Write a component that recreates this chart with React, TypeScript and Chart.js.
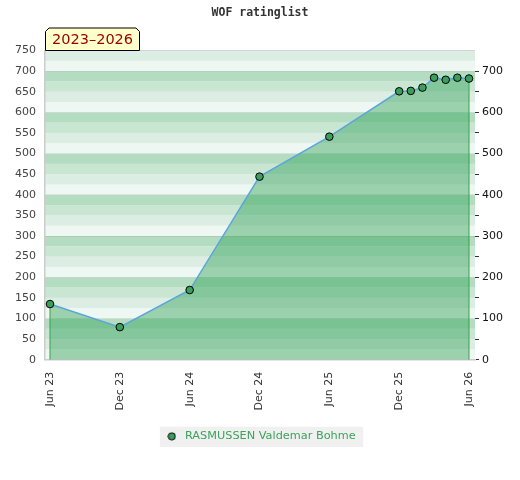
import React, { useEffect, useRef } from "react";
import { Chart, registerables } from "chart.js";

Chart.register(...registerables);

const titleText = "WOF ratinglist";
const playerName = "RASMUSSEN Valdemar Bohme";
const dates = [
  "2023-06", "2023-12", "2024-06", "2024-12", "2025-06", "2025-12",
  "2026-01", "2026-02", "2026-03", "2026-04", "2026-05", "2026-06",
];
const ratings = [135, 79, 169, 444, 541, 651, 652, 660, 684, 679, 684, 682];
const xTickLabels = ["Jun 23", "Dec 23", "Jun 24", "Dec 24", "Jun 25", "Dec 25", "Jun 26"];
const xTickDates = ["2023-06", "2023-12", "2024-06", "2024-12", "2025-06", "2025-12", "2026-06"];
const yMin = 0;
const yMax = 750;
const yStep = 50;
const yLabelStep = 100;
const bandStep = 25;

const BAND_COLORS = ["#eff7f2", "#dcede3", "#c9e6d3", "#b3dcc1"];
const POINT_FILL = "#3a9e5c";
const LEGEND_FONT_SIZE = 11.3;
const LEGEND_BOX_W = 15;

const monthIndex = (d: string) => {
  const [y, m] = d.split("-").map(Number);
  const [y0, m0] = dates[0].split("-").map(Number);
  return (y - y0) * 12 + (m - m0);
};

const points = dates.map((d, i) => ({ x: monthIndex(d), y: ratings[i] }));
const first = points[0];
const last = points[points.length - 1];
const tickMonths = xTickDates.map(monthIndex);
const periodLabel = `${dates[0].slice(0, 4)}–${dates[dates.length - 1].slice(0, 4)}`;

function makeMarker() {
  const c = document.createElement("canvas");
  c.width = 9;
  c.height = 9;
  const g = c.getContext("2d")!;
  g.beginPath();
  g.arc(4.5, 4.5, 3.6, 0, Math.PI * 2);
  g.fillStyle = POINT_FILL;
  g.fill();
  g.lineWidth = 1;
  g.strokeStyle = "#000";
  g.stroke();
  return c;
}

const bandsPlugin = {
  id: "bands",
  beforeDraw(chart: any) {
    const { ctx, chartArea } = chart;
    const ys = chart.scales.y;
    ctx.save();
    for (let v = yMin; v < yMax; v += bandStep) {
      const idx = Math.round(v / bandStep) % 4;
      const top = ys.getPixelForValue(v + bandStep);
      const bot = ys.getPixelForValue(v);
      ctx.fillStyle = BAND_COLORS[idx];
      ctx.fillRect(chartArea.left, top, chartArea.right - chartArea.left, bot - top);
    }
    // legend background
    const lg = chart.legend;
    if (lg) {
      const pad = lg.options.labels.padding;
      ctx.font = `${LEGEND_FONT_SIZE}px 'DejaVu Sans'`;
      const tw = ctx.measureText(playerName).width;
      const itemW = LEGEND_BOX_W + LEGEND_FONT_SIZE / 2 + tw;
      const x0 = (lg.left + lg.right - itemW) / 2;
      const top = lg.top + pad;
      ctx.fillStyle = "#f0f0f0";
      ctx.fillRect(x0 - 4.5, top - 4, itemW + 12, LEGEND_FONT_SIZE + 9);
    }
    ctx.restore();
  },
  afterDraw(chart: any) {
    const { ctx, chartArea } = chart;
    const left = chartArea.left;
    const bottom = chartArea.top;
    const w = 95;
    const h = 23;
    const c = 4;
    const top = bottom - h;
    ctx.save();
    ctx.beginPath();
    ctx.moveTo(left + 0.5, bottom);
    ctx.lineTo(left + 0.5, top + c);
    ctx.lineTo(left + c, top + 0.5);
    ctx.lineTo(left + w - c, top + 0.5);
    ctx.lineTo(left + w - 0.5, top + c);
    ctx.lineTo(left + w - 0.5, bottom);
    ctx.closePath();
    ctx.fillStyle = "#ffffcc";
    ctx.fill();
    ctx.strokeStyle = "#000";
    ctx.lineWidth = 1;
    ctx.stroke();
    ctx.fillStyle = "#990000";
    ctx.font = "14.5px 'DejaVu Sans'";
    ctx.textAlign = "left";
    ctx.textBaseline = "middle";
    ctx.fillText(periodLabel, left + 7, top + h / 2 + 1);
    ctx.restore();
  },
};

export default function App() {
  const ref = useRef<HTMLCanvasElement | null>(null);
  useEffect(() => {
    if (!ref.current) return;
    const marker = makeMarker();
    const chart = new Chart(ref.current, {
      type: "line",
      data: {
        datasets: [
          {
            label: playerName,
            data: points,
            yAxisID: "y",
            xAxisID: "x",
            borderColor: "#5aa5dc",
            borderWidth: 1.5,
            backgroundColor: "rgba(40,158,80,0.42)",
            fill: "origin",
            pointRadius: 3.8,
            pointBackgroundColor: POINT_FILL,
            pointBorderColor: "#000",
            pointBorderWidth: 1,
            tension: 0,
            order: 0,
          },
          {
            label: "edgeStart",
            data: [{ x: first.x, y: yMin }, { x: first.x, y: first.y }],
            borderColor: "#3aa050",
            borderWidth: 1,
            pointRadius: 0,
            fill: false,
            order: 1,
          },
          {
            label: "edgeEnd",
            data: [{ x: last.x, y: yMin }, { x: last.x, y: last.y }],
            borderColor: "#3aa050",
            borderWidth: 1,
            pointRadius: 0,
            fill: false,
            order: 1,
          },
        ],
      },
      options: {
        animation: false,
        responsive: true,
        maintainAspectRatio: false,
        layout: { padding: { top: 0, left: 0, right: 0, bottom: 28 } },
        plugins: {
          filler: { drawTime: "beforeDatasetsDraw" },
          tooltip: { enabled: false },
          title: {
            display: true,
            text: titleText,
            color: "#333",
            font: { family: "'DejaVu Sans Mono'", weight: "bold", size: 11.5 },
            padding: { top: 6, bottom: 30.7 },
          },
          legend: {
            display: true,
            position: "bottom",
            labels: {
              usePointStyle: true,
              pointStyle: marker,
              boxHeight: 5,
              pointStyleWidth: LEGEND_BOX_W,
              padding: 10,
              color: "#3aa35c",
              font: { family: "'DejaVu Sans'", size: LEGEND_FONT_SIZE },
              filter: (item: any) => item.datasetIndex === 0,
            },
          },
        },
        scales: {
          x: {
            type: "linear",
            min: -5 / 11.639,
            max: 36 + 6 / 11.639,
            afterBuildTicks: (s: any) => {
              s.ticks = tickMonths.map((v) => ({ value: v }));
            },
            afterFit: (s: any) => {
              s.height = 61;
            },
            grid: { display: false, drawTicks: false },
            border: { display: true, color: "#cccccc", width: 1.5 },
            ticks: {
              autoSkip: false,
              minRotation: 90,
              maxRotation: 90,
              padding: 12,
              color: "#333",
              font: { family: "'DejaVu Sans'", size: 11 },
              callback: (v: any) => {
                const i = tickMonths.indexOf(Number(v));
                return i >= 0 ? xTickLabels[i] : "";
              },
            },
          },
          y: {
            position: "left",
            min: yMin,
            max: yMax,
            afterFit: (s: any) => {
              s.width = 45;
            },
            grid: {
              drawTicks: false,
              color: (ctx: any) =>
                ctx.tick && ctx.tick.value % yLabelStep === 0 && ctx.tick.value !== 0
                  ? "rgba(0,0,0,0.07)"
                  : ctx.tick && ctx.tick.value === yMax
                  ? "rgba(0,0,0,0.12)"
                  : "rgba(0,0,0,0)",
            },
            border: { display: true, color: "#cccccc", width: 1.5 },
            ticks: {
              stepSize: yStep,
              padding: 9,
              color: "#444",
              font: { family: "'DejaVu Sans'", size: 11 },
            },
          },
          y1: {
            position: "right",
            min: yMin,
            max: yMax,
            afterFit: (s: any) => {
              s.width = 45;
            },
            grid: {
              drawOnChartArea: false,
              drawTicks: true,
              tickLength: 4,
              tickColor: (ctx: any) =>
                ctx.tick && ctx.tick.value === yMax ? "rgba(0,0,0,0)" : "#333",
            },
            border: { display: false },
            ticks: {
              stepSize: yStep,
              padding: 3,
              color: "#111",
              font: { family: "'DejaVu Sans'", size: 11 },
              callback: (v: any) => (Number(v) % yLabelStep === 0 ? String(v) : ""),
            },
          },
        },
      },
      plugins: [bandsPlugin],
    });
    return () => chart.destroy();
  }, []);

  return (
    <div style={{ position: "fixed", left: 0, top: 0, width: 520, height: 480, background: "#fff" }}>
      <canvas ref={ref} />
    </div>
  );
}
